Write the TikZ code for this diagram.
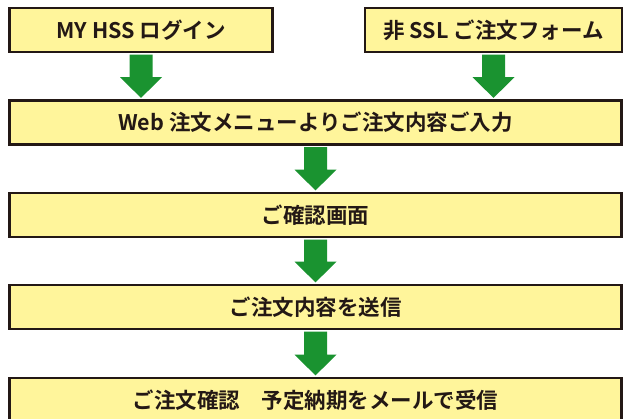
\documentclass[tikz,border=0pt]{standalone}
\usepackage{fontspec}
\newfontfamily\jp{Noto Sans CJK JP}[BoldFont={Noto Sans CJK JP Bold}]
\usetikzlibrary{calc}
\definecolor{boxfill}{HTML}{FFF59B}
\definecolor{boxline}{HTML}{231815}
\definecolor{arrowgreen}{HTML}{1A9330}
\tikzset{
  stepbox/.style={draw=boxline, fill=boxfill, line width=2.6pt, inner sep=0pt,
    minimum height=44pt, font=\jp\bfseries\fontsize{21.5pt}{24pt}\selectfont, text=boxline},
  fatarrow/.style={fill=arrowgreen, draw=none}
}
\newcommand{\fatarr}[2]{%
  \fill[fatarrow] ($(#1.south)+(-11.5pt,-1.3pt)$) -- ($(#1.south)+(11.5pt,-1.3pt)$)
    -- ($(#1.south |- #2.north)+(11.5pt,22pt)$) -- ($(#1.south |- #2.north)+(21pt,22pt)$)
    -- ($(#1.south |- #2.north)+(0,1.3pt)$) -- ($(#1.south |- #2.north)+(-21pt,22pt)$)
    -- ($(#1.south |- #2.north)+(-11.5pt,22pt)$) -- cycle;}
\begin{document}
\begin{tikzpicture}[x=1pt,y=1pt]
\useasboundingbox (0,0) rectangle (624,-419);
\node[stepbox, minimum width=263pt] (login) at (141,-30) {MY HSS ログイン};
\node[stepbox, minimum width=257pt] (form) at (493.5,-30) {非 SSL ご注文フォーム};
\node[stepbox, minimum width=612pt] (input) at (315.5,-122.5) {Web 注文メニューよりご注文内容ご入力};
\node[stepbox, minimum width=612pt] (confirm) at (315.5,-215) {ご確認画面};
\node[stepbox, minimum width=612pt] (send) at (315.5,-307) {ご注文内容を送信};
\node[stepbox, minimum width=612pt] (mail) at (315.5,-400) {ご注文確認　予定納期をメールで受信};
\fatarr{login}{input}
\fatarr{form}{input}
\fatarr{input}{confirm}
\fatarr{confirm}{send}
\fatarr{send}{mail}
\end{tikzpicture}
\end{document}
